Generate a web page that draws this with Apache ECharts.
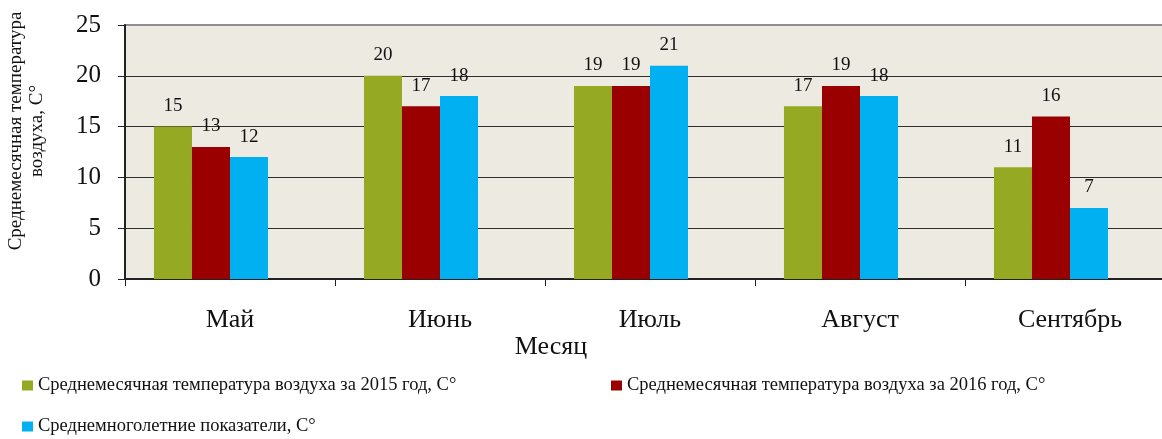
<!DOCTYPE html>
<html>
<head>
<meta charset="utf-8">
<script src="https://cdn.jsdelivr.net/npm/echarts@6/dist/echarts.min.js"></script>
<style>
  html, body { margin: 0; padding: 0; background: #ffffff; }
  #chart { width: 1162px; height: 439px; }
</style>
</head>
<body>
<div id="chart"></div>
<script>
// Monthly average air temperatures, May–September
const months = ['Май', 'Июнь', 'Июль', 'Август', 'Сентябрь'];
const temp2015 = [15, 20, 19, 17, 11];
const temp2016 = [13, 17, 19, 19, 16];
const longTermAvg = [12, 18, 21, 18, 7];
const emptySlot = [null, null, null, null, null];
const yTicks = [0, 5, 10, 15, 20, 25];

const seriesNames = [
  'Среднемесячная температура воздуха за 2015 год, С°',
  'Среднемесячная температура воздуха за 2016 год, С°',
  'Среднемноголетние показатели, С°'
];
const colors = ['#95A922', '#9A0000', '#00B0F0'];

const FONT = '"Liberation Serif", "Times New Roman", serif';

const chart = echarts.init(document.getElementById('chart'), null, { renderer: 'canvas' });

function barSeries(name, data, color) {
  return {
    name: name,
    type: 'bar',
    data: data,
    barGap: '0%',
    barCategoryGap: '27.6%',
    itemStyle: { color: color },
    label: {
      show: true,
      position: 'top',
      distance: 11,
      color: '#111',
      fontFamily: FONT,
      fontSize: 19
    }
  };
}

function legendBlock(name, left, top) {
  return {
    data: [name],
    left: left, top: top,
    padding: 0,
    itemWidth: 11, itemHeight: 10,
    icon: 'rect',
    textStyle: { fontFamily: FONT, fontSize: 18.5, color: '#111' }
  };
}

chart.setOption({
  animation: false,
  backgroundColor: '#ffffff',
  textStyle: { fontFamily: FONT },
  grid: {
    left: 125,
    top: 25,
    width: 1050,
    height: 254,
    containLabel: false,
    outerBoundsMode: 'none',
    show: true,
    backgroundColor: '#ECEAE1',
    borderColor: '#8f8f8f',
    borderWidth: 2
  },
  legend: [
    legendBlock(seriesNames[0], 22, 376),
    legendBlock(seriesNames[1], 611, 376),
    legendBlock(seriesNames[2], 22, 417)
  ],
  xAxis: {
    type: 'category',
    data: months,
    axisLine: { show: true, lineStyle: { color: '#222', width: 2 } },
    axisTick: { show: true, length: 7, lineStyle: { color: '#222' } },
    axisLabel: { fontFamily: FONT, fontSize: 26, color: '#111', margin: 28 },
    splitLine: { show: false }
  },
  yAxis: {
    type: 'value',
    min: yTicks[0],
    max: yTicks[yTicks.length - 1],
    interval: 5,
    axisLine: { show: true, lineStyle: { color: '#222', width: 2 } },
    axisTick: { show: true, length: 7, lineStyle: { color: '#222' } },
    axisLabel: { fontFamily: FONT, fontSize: 25, color: '#111', margin: 24 },
    splitLine: { show: true, showMaxLine: false, lineStyle: { color: '#2e2e2e', width: 1.2 } }
  },
  graphic: [
    {
      type: 'text',
      x: 27, y: 131,
      rotation: Math.PI / 2,
      style: {
        text: 'Среднемесячная температура\nвоздуха, С°',
        font: '19px ' + FONT,
        lineHeight: 21,
        fill: '#111',
        align: 'center',
        verticalAlign: 'middle'
      }
    },
    {
      type: 'text',
      x: 551, y: 347,
      style: {
        text: 'Месяц',
        font: '26px ' + FONT,
        fill: '#111',
        align: 'center',
        verticalAlign: 'middle'
      }
    }
  ],
  series: [
    barSeries(seriesNames[0], temp2015, colors[0]),
    barSeries(seriesNames[1], temp2016, colors[1]),
    barSeries(seriesNames[2], longTermAvg, colors[2]),
    // empty fourth slot in each month group, keeps the bars left of centre
    { name: 'slot', type: 'bar', data: emptySlot, barGap: '0%', barCategoryGap: '27.6%', silent: true }
  ]
});
</script>
</body>
</html>
